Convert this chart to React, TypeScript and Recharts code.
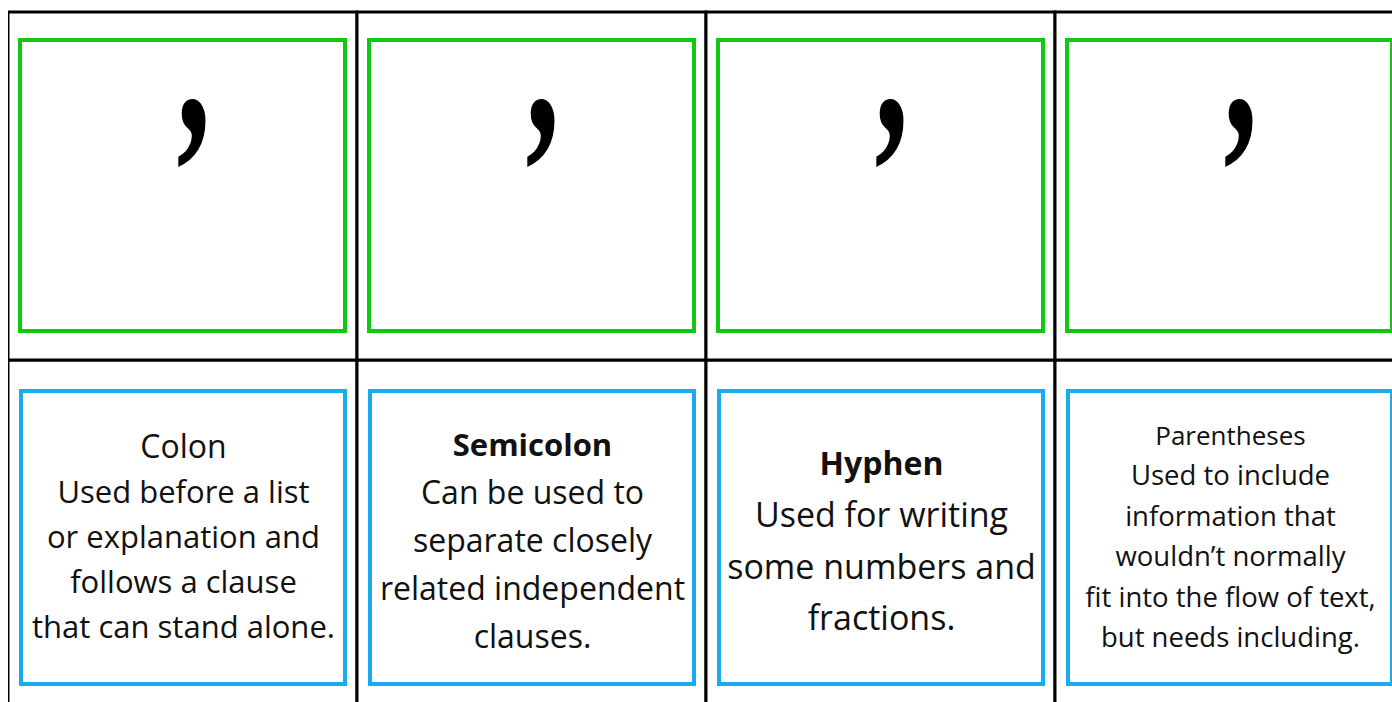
import React from "react";
import { BarChart, Bar, XAxis, YAxis } from "recharts";

// card names, symbol shown on each card and the definition lines
const cards = ["Colon", "Semicolon", "Hyphen", "Parentheses"];
const symbols = [",", ",", ",", ","];
const definitions = [
  ["Used before a list", "or explanation and", "follows a clause", "that can stand alone."],
  ["Can be used to", "separate closely", "related independent", "clauses."],
  ["Used for writing", "some numbers and", "fractions."],
  ["Used to include", "information that", "wouldn\u2019t normally", "fit into the flow of text,", "but needs including."],
];
// each card has two rows of equal share: symbol on top, definition below
const symbolRow = [1, 1, 1, 1];
const definitionRow = [1, 1, 1, 1];

const data = cards.map((name, i) => ({
  name,
  symbol: symbols[i],
  lines: definitions[i],
  symbolRow: symbolRow[i],
  definitionRow: definitionRow[i],
}));

// text styling per card (sizes / offsets inside the cell)
const textStyle = [
  { titleSize: 32, titleWeight: 400, bodySize: 31, titleY: 98, bodyY: 143, gap: 45 },
  { titleSize: 31, titleWeight: 700, bodySize: 32, titleY: 96, bodyY: 144, gap: 48 },
  { titleSize: 32, titleWeight: 700, bodySize: 34, titleY: 115, bodyY: 167, gap: 51.5 },
  { titleSize: 26, titleWeight: 400, bodySize: 27.5, titleY: 85, bodyY: 125, gap: 40.5 },
];

const FONT = "'Open Sans', sans-serif";
const GREEN = "#11c811";
const BLUE = "#1aaaee";

const SymbolCell = (props: any) => {
  const { x, y, width, height, payload } = props;
  return (
    <g>
      <rect x={x} y={y} width={width} height={height} fill="#fff" stroke="#000" strokeWidth={3} />
      <rect x={x + 12} y={y + 28} width={width - 24} height={height - 57} fill="none" stroke={GREEN} strokeWidth={4} />
      <text
        transform={`translate(${x + width / 2 + 11}, ${y + 120}) scale(0.72, 1.18)`}
        textAnchor="middle"
        fontFamily="'Liberation Serif', serif"
        fontWeight={700}
        fontSize={190}
        fill="#000"
      >
        {payload.symbol}
      </text>
    </g>
  );
};

const DefinitionCell = (props: any) => {
  const { x, y, width, height, payload, index } = props;
  const s = textStyle[index];
  const cx = x + width / 2 + 1;
  return (
    <g>
      <rect x={x} y={y} width={width} height={height} fill="#fff" stroke="#000" strokeWidth={3} />
      <rect x={x + 13} y={y + 31} width={width - 25} height={height - 55} fill="none" stroke={BLUE} strokeWidth={4} />
      <text x={cx} y={y + s.titleY} textAnchor="middle" fontFamily={FONT} fontSize={s.titleSize} fontWeight={s.titleWeight} fill="#111">
        {payload.name}
      </text>
      {payload.lines.map((line: string, i: number) => (
        <text key={i} x={cx} y={y + s.bodyY + i * s.gap} textAnchor="middle" fontFamily={FONT} fontSize={s.bodySize} fill="#111">
          {line}
        </text>
      ))}
    </g>
  );
};

export default function App() {
  return (
    <div style={{ position: "fixed", left: 0, top: 0, width: 1392, height: 702, overflow: "hidden", background: "#fff" }}>
      <BarChart
        style={{ position: "absolute", left: 8, top: 8 }}
        width={1400}
        height={704}
        data={data}
        margin={{ top: 4, right: 4, left: 0, bottom: 4 }}
        barCategoryGap={0}
        barGap={0}
      >
        <XAxis dataKey="name" hide />
        <YAxis hide domain={[0, 2]} />
        <Bar dataKey="definitionRow" stackId="card" isAnimationActive={false} shape={DefinitionCell} />
        <Bar dataKey="symbolRow" stackId="card" isAnimationActive={false} shape={SymbolCell} />
      </BarChart>
    </div>
  );
}
